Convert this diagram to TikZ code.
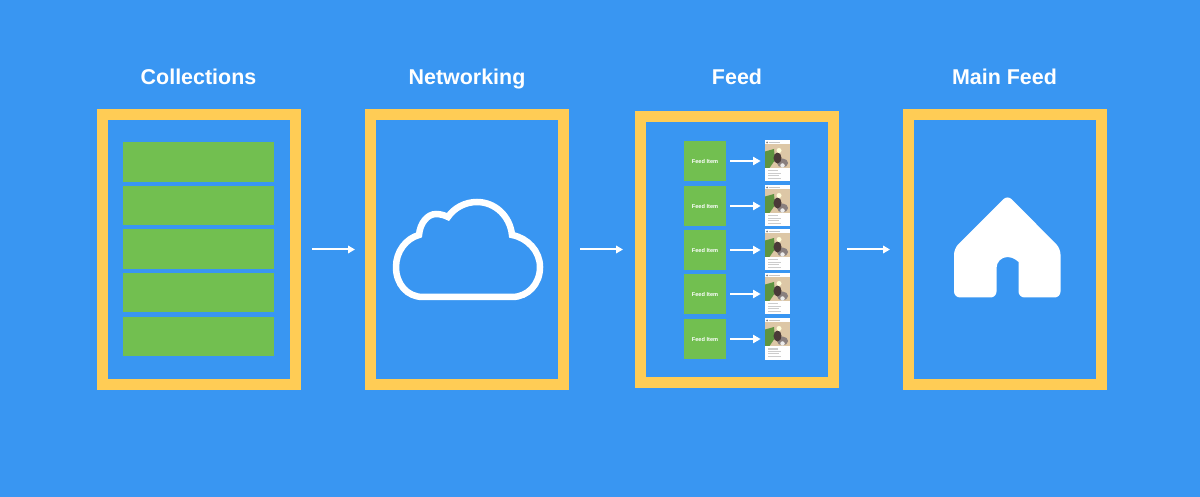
\documentclass[tikz,border=0pt]{standalone}
\usepackage{fontspec}
\setmainfont{Liberation Sans}
\usetikzlibrary{positioning,arrows.meta}
\definecolor{skyblue}{HTML}{3996F2}
\definecolor{framegold}{HTML}{FFCC55}
\definecolor{itemgreen}{HTML}{72BF50}
\definecolor{photosand}{HTML}{DDC7A6}
\definecolor{photoleaf}{HTML}{5E9440}
\definecolor{photodog}{HTML}{4A3A38}
\tikzset{
  panelbox/.style={draw=framegold,line width=0.22cm,minimum width=3.86cm,minimum height=5.39cm,inner sep=0pt},
  paneltitle/.style={text=white,font=\bfseries\fontsize{12.2}{14}\selectfont,inner sep=0pt,anchor=base},
  bar/.style={fill=itemgreen,minimum width=3.02cm,minimum height=0.79cm,inner sep=0pt},
  feeditem/.style={fill=itemgreen,minimum width=0.84cm,minimum height=0.8cm,inner sep=0pt,text=white,font=\bfseries\fontsize{3.2}{4}\selectfont},
  postcard/.style={fill=white,minimum width=0.5cm,minimum height=0.82cm,inner sep=0pt},
  flow/.style={draw=white,line width=0.04cm,-{Triangle[length=0.14cm,width=0.15cm]}},
  small flow/.style={draw=white,line width=0.04cm,-{Triangle[length=0.15cm,width=0.16cm]},shorten <=0.08cm,shorten >=0.08cm}
}
% one thumbnail: white card with a photo on it
\newcommand{\postphoto}[1]{
  \begin{scope}[shift={(#1.center)}]
    \fill[photosand] (-0.25,0.34) rectangle (0.25,-0.14);
    \fill[photoleaf] (-0.25,0.19) -- (-0.07,0.24) -- (-0.05,0.02) -- (-0.16,-0.14) -- (-0.25,-0.14) -- cycle;
    \fill[photodog!65!white] (0.1,-0.04) ellipse (0.11 and 0.09);
    \fill[photodog] (0,0.06) ellipse (0.08 and 0.11);
    \fill[white!85!yellow] (0.03,0.21) circle (0.05);
    \fill[gray!15] (0.1,-0.09) circle (0.045);
    \fill[gray] (-0.21,0.37) circle (0.02);
    \fill[gray!45] (-0.17,0.38) rectangle (0.05,0.36);
    \foreach \ly/\lw in {-0.19/0.2,-0.24/0.26,-0.29/0.22,-0.34/0.26}
      \fill[gray!40] (-0.2,\ly) rectangle (-0.2+\lw,\ly-0.02);
  \end{scope}
}
\begin{document}
\begin{tikzpicture}
  \fill[skyblue] (0,0) rectangle (24,-9.94);
  \useasboundingbox (0,0) rectangle (24,-9.94);

  % the four panels
  \node[panelbox] (collections) at (3.98,-4.99) {};
  \node[panelbox] (networking) at (9.34,-4.99) {};
  \node[panelbox,minimum height=5.33cm] (feed) at (14.74,-4.99) {};
  \node[panelbox] (mainfeed) at (20.1,-4.99) {};

  \node[paneltitle] (t1) at (3.97,-1.7) {Collections};
  \node[paneltitle] (t2) at (9.34,-1.7) {Networking};
  \node[paneltitle] (t3) at (14.74,-1.7) {Feed};
  \node[paneltitle] (t4) at (20.09,-1.7) {Main Feed};

  \draw[flow,shorten <=0.22cm,shorten >=0.2cm] (collections) -- (networking);
  \draw[flow,shorten <=0.22cm,shorten >=0.24cm] (networking) -- (feed);
  \draw[flow,shorten <=0.16cm,shorten >=0.26cm] (feed) -- (mainfeed);

  % collections
  \foreach \i/\y in {1/-3.24,2/-4.11,3/-4.98,4/-5.85,5/-6.73}
    \node[bar] (bar\i) at (3.97,\y) {};

  % networking
  \draw[white,line width=0.13cm] (8.46,-5.94)
    .. controls (8.14,-5.94) and (7.92,-5.68) .. (7.92,-5.34)
    .. controls (7.92,-5.03) and (8.12,-4.77) .. (8.38,-4.70)
    .. controls (8.40,-4.46) and (8.55,-4.28) .. (8.72,-4.28)
    .. controls (8.81,-4.28) and (8.90,-4.31) .. (8.96,-4.34)
    .. controls (9.08,-4.16) and (9.30,-4.04) .. (9.54,-4.04)
    .. controls (9.90,-4.04) and (10.2,-4.32) .. (10.24,-4.70)
    .. controls (10.55,-4.76) and (10.80,-5.02) .. (10.80,-5.34)
    .. controls (10.80,-5.68) and (10.56,-5.94) .. (10.24,-5.94)
    -- cycle;

  % feed
  \foreach \i/\y in {1/-3.22,2/-4.12,3/-5.0,4/-5.88,5/-6.78} {
    \node[feeditem] (item\i) at (14.1,\y) {Feed Item};
    \node[postcard] (post\i) at (15.55,\y) {};
    \postphoto{post\i}
    \draw[small flow] (item\i) -- (post\i);
  }

  % main feed
  \fill[white,rounded corners=0.12cm] (20.15,-3.9) -- (21.21,-4.97) -- (21.21,-5.95) -- (20.37,-5.95)
    -- (20.37,-5.36) [sharp corners] arc (0:180:0.22)
    [rounded corners=0.12cm] -- (19.93,-5.95) -- (19.08,-5.95) -- (19.08,-4.97) -- cycle;
\end{tikzpicture}
\end{document}
